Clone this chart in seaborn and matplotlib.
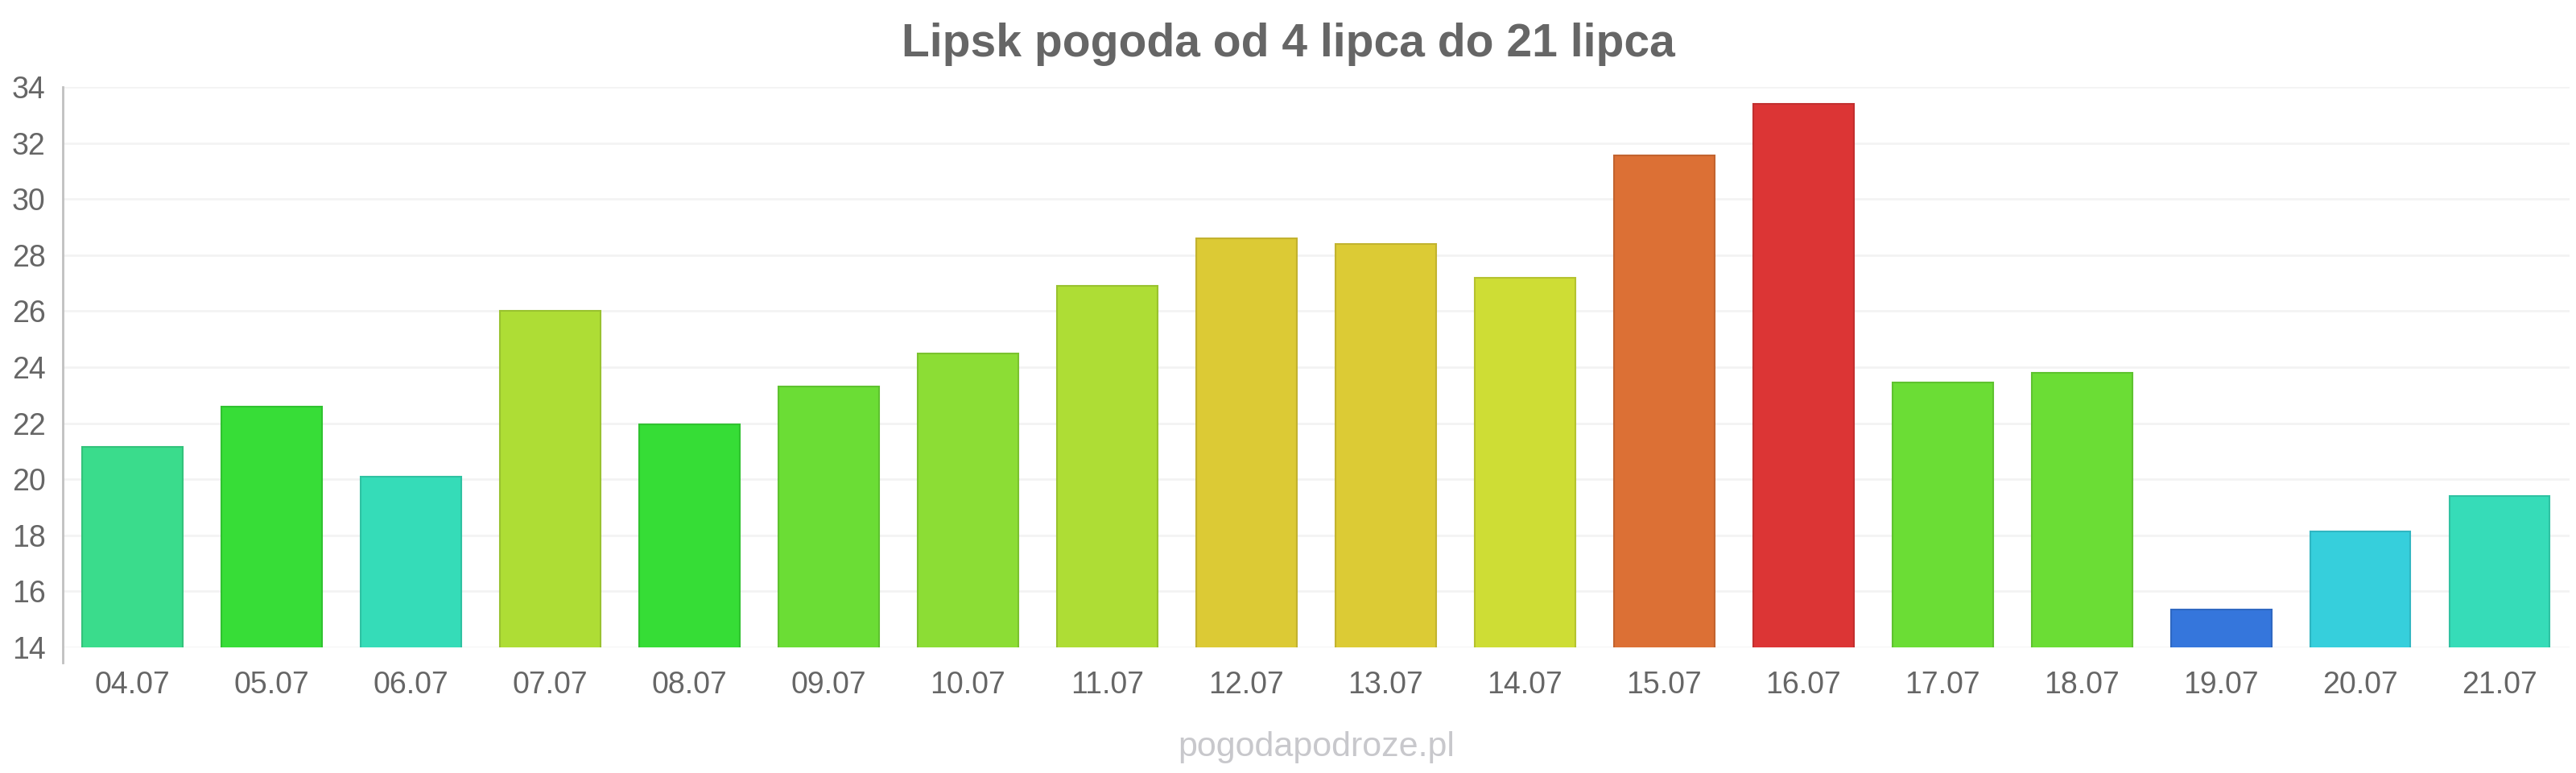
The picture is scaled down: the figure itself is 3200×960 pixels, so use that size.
import matplotlib
matplotlib.use("Agg")
import matplotlib.pyplot as plt
import matplotlib.colors as mcolors
import seaborn as sns
import pandas as pd

# Data
days = ["04.07", "05.07", "06.07", "07.07", "08.07", "09.07", "10.07", "11.07", "12.07",
        "13.07", "14.07", "15.07", "16.07", "17.07", "18.07", "19.07", "20.07", "21.07"]
temps = [21.15, 22.6, 20.1, 26.0, 21.95, 23.3, 24.5, 26.9, 28.6,
         28.4, 27.2, 31.55, 33.4, 23.45, 23.8, 15.35, 18.15, 19.4]
colors = ["#3ADC8C", "#37DD37", "#35DCB8", "#AEDD35", "#36DD36", "#6BDD35", "#8CDD35", "#AEDD35", "#DCCA35",
          "#DCCB35", "#CEDD35", "#DC7035", "#DC3535", "#6BDD35", "#6BDD35", "#3576DC", "#36CFDC", "#36DCB8"]
yticks = list(range(14, 35, 2))

df = pd.DataFrame({"day": days, "temp": temps})

sns.set_style("white")
plt.rcParams["font.family"] = ["Liberation Sans", "DejaVu Sans"]

fig = plt.figure(figsize=(32, 9.6), dpi=100)
ax = fig.add_axes([0.0244, 0.1625, 0.973, 0.725])

sns.barplot(data=df, x="day", y="temp", hue="day", palette=colors, legend=False,
            width=0.72, saturation=1, ax=ax, zorder=3)

# darker outline per bar
for patch, c in zip(ax.patches, colors):
    r, g, b = mcolors.to_rgb(c)
    patch.set_edgecolor((r * 0.88, g * 0.88, b * 0.88))
    patch.set_linewidth(1.5)

ax.set_ylim(14, 34)
ax.set_xlim(-0.5, len(days) - 0.5)
ax.set_yticks(yticks)
ax.set_xlabel("")
ax.set_ylabel("")

ax.yaxis.grid(True, color="#f3f3f3", linewidth=2, zorder=0)
ax.set_axisbelow(True)
for s in ["top", "right", "bottom"]:
    ax.spines[s].set_visible(False)
ax.spines["left"].set_color("#c0c0c0")
ax.spines["left"].set_linewidth(2)
ax.spines["left"].set_bounds(13.45, 34)

ax.tick_params(axis="y", length=14.4, width=1.5, color="#f0f0f0", pad=1,
               labelsize=27, labelcolor="#666666")
ax.tick_params(axis="x", length=0, pad=21, labelsize=27, labelcolor="#666666")

fig.text(0.5, 0.943, "Lipsk pogoda od 4 lipca do 21 lipca", ha="center", va="center",
         fontsize=41, fontweight="bold", color="#666666")
fig.text(0.511, 0.033, "pogodapodroze.pl", ha="center", va="center",
         fontsize=31, color="#c8c8cc")

fig.savefig("out.png", dpi=100, facecolor="white")
